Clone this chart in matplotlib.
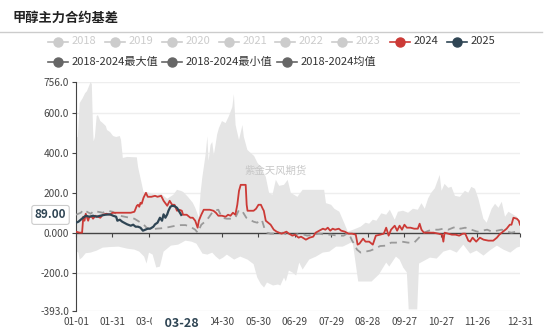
import matplotlib
matplotlib.use('Agg')
import matplotlib.pyplot as plt
import numpy as np
from matplotlib.lines import Line2D

plt.rcParams['font.family'] = ['Noto Sans CJK SC', 'DejaVu Sans']

W, H = 550, 331

title = '甲醇主力合约基差'
watermark = '紫金天风期货'
tick_days = [0, 30, 60, 120, 150, 180, 210, 240, 270, 300, 330, 365]
tick_labels = ['01-01', '01-31', '03-01', '04-30', '05-30', '06-29', '07-29',
               '08-28', '09-27', '10-27', '11-26', '12-31']
y_ticks = [-393, -200, 0, 200, 400, 600, 756]
y_tick_labels = ['-393.0', '-200.0', '0.000', '200.0', '400.0', '600.0', '756.0']
hl_day, hl_label = 86.5, '03-28'
hl_value, hl_value_label = 89, '89.00'

faded_years = ['2018', '2019', '2020', '2021', '2022', '2023']

max_days = [0, 1.5, 3, 5.5, 7.5, 9, 11, 12, 13, 14, 14.5, 15.5, 17, 18, 20, 22, 24.5, 25.5, 28,
            30.5, 33, 36, 37, 38.5, 42, 50, 51, 52.8, 55.5, 57, 58, 62, 66, 70, 75, 80, 83, 86,
            88, 92, 96, 98, 101, 102.4, 103.8, 106.5, 108, 109, 110.6, 112, 113.3, 114.7, 116,
            117.5, 120, 123, 125.7, 128.5, 129.8, 131.2, 134, 136.8, 138, 140.9, 143.6, 146.4,
            149.2, 152, 156, 158.7, 161.5, 164.3, 167, 171, 174, 176.6, 182, 186.3, 190, 204,
            205.5, 209.7, 212.4, 216.5, 220.6, 223.4, 228, 234, 238, 241, 244, 247, 251, 255,
            258, 262, 264.7, 268.8, 273, 277, 281, 284, 286.7, 289.5, 292, 295, 299, 300.5,
            303, 306, 308.7, 311.5, 315.6, 319.7, 322.5, 325, 328, 330.8, 334.9, 337.6, 341.7,
            344.5, 347.3, 350, 352.7, 355.5, 359.6, 362.4, 365]
max_vals = [475, 480, 650, 675, 700, 710, 740, 756, 745, 520, 458, 480, 585, 590, 560, 550, 535,
            515, 505, 485, 480, 485, 465, 375, 380, 378, 330, 280, 205, 200, 205, 195, 190, 195,
            170, 190, 215, 210, 205, 180, 150, 125, 75, 200, 275, 390, 483, 360, 440, 455, 390,
            440, 492, 525, 560, 550, 585, 630, 695, 540, 465, 540, 480, 415, 400, 385, 350, 330,
            280, 200, 190, 265, 235, 240, 265, 200, 180, 215, 215, 215, 148, 140, 120, 105, 47,
            5, 15, 30, 50, 45, 65, 60, 97, 90, 115, 65, 105, 110, 100, 120, 115, 148, 120, 172,
            200, 223, 290, 210, 245, 225, 230, 185, 180, 210, 200, 230, 220, 170, 70, 50, 120,
            145, 125, 155, 80, 105, 90, 80, 50]

min_days = [0, 2, 3, 5, 8, 12, 17, 22, 28, 35, 42, 48, 52, 56, 58, 60, 63, 66, 69, 72, 78, 84,
            90, 95, 99, 101, 104, 108, 112, 115, 118, 121, 124, 130, 135, 141, 146, 149, 152,
            154.6, 157, 162, 166, 168, 171, 172.5, 175, 178, 181, 183.5, 186.3, 191.7, 197.3,
            202.8, 208.3, 213.8, 219.3, 226, 227.5, 232, 243, 249, 255, 257.5, 263, 266, 269,
            272, 273.5, 280.5, 282, 285, 291, 296.5, 302, 307.5, 313, 318.4, 324, 329.3, 335,
            340, 346, 351.4, 357, 362.4, 365]
min_vals = [-93, -100, -135, -125, -103, -100, -90, -75, -72, -70, -80, -85, -95, -120, -155,
            -100, -110, -175, -170, -95, -65, -60, -40, -45, -55, -75, -105, -110, -100, -120,
            -135, -125, -110, -135, -120, -135, -158, -225, -258, -275, -250, -265, -260, -265,
            -225, -245, -190, -200, -215, -150, -185, -135, -120, -100, -95, -70, -70, -50, -50,
            -245, -245, -210, -150, -170, -120, -135, -175, -200, -385, -385, -155, -145, -125,
            -130, -95, -85, -100, -60, -105, -90, -115, -90, -65, -85, -100, -75, -70]

y2024_days = [0, 3, 5, 6, 7, 8, 10, 11, 13, 14, 16, 18, 20, 22, 25, 28, 30, 35, 40, 45, 48, 50,
              51, 52, 53, 54, 55.5, 57.5, 59, 62, 65, 67, 70, 72, 75, 77, 79, 81, 83, 85, 87, 88,
              91, 94, 96, 98, 100, 101, 103, 105, 110, 113, 115, 117, 120, 123, 125, 127, 129,
              131, 132.6, 134, 135.4, 137, 139.5, 140.3, 141, 143, 146, 148, 150, 152, 153.5,
              154.4, 156, 158, 160, 162.6, 165, 167, 169, 171, 173, 175, 178, 180, 183, 185, 189,
              192, 195, 197, 200, 203, 205, 207, 209, 211, 213, 216, 218, 221, 224, 227, 230,
              231.5, 233, 236, 238, 241, 244, 246.5, 250, 253, 255, 257, 259, 262, 264, 266,
              268, 270, 272, 275, 278, 281, 282.5, 284, 286, 290, 294, 298, 301, 302, 303, 306,
              309, 312, 315, 318, 320, 322.5, 324, 326, 329, 332, 335, 339, 343, 346, 348, 350,
              352, 354, 356.6, 358, 359.6, 362.4, 364, 365]
y2024_vals = [5, 0, 0, 80, 60, 95, 60, 80, 80, 70, 85, 80, 75, 90, 95, 90, 100, 100, 100, 100,
              105, 135, 140, 130, 150, 145, 175, 200, 180, 180, 185, 180, 185, 160, 135, 160,
              140, 140, 110, 115, 110, 90, 90, 75, 75, 60, 25, 60, 90, 115, 115, 110, 100, 85,
              85, 80, 90, 85, 100, 90, 140, 210, 240, 240, 240, 140, 110, 110, 110, 120, 140,
              140, 120, 110, 60, 50, 40, 15, 5, 0, -5, 0, 5, -5, -15, -10, -25, -20, -35, -25,
              -20, 0, 10, 20, 15, 25, 10, 20, 15, 20, 10, 5, -5, -5, -10, -60, -55, -30, -45,
              -45, -60, -15, -10, -5, 25, -15, 15, 35, 10, 35, 15, 40, 25, 25, 20, 20, 45, 15,
              0, 0, 0, -5, -10, -45, 0, -5, -10, -10, -15, -5, -5, -40, -45, -25, -45, -25, -35,
              -40, -40, -25, -10, 0, 10, 20, 40, 40, 75, 70, 60, 40]

y2025_days = [0, 2, 5.8, 8, 11, 14, 17, 20, 24, 28, 30.5, 33, 34, 36, 38, 42, 45, 47, 49, 51,
              53, 55, 57, 59, 61, 63.6, 65, 67, 69, 70.7, 72, 73.5, 75, 76, 77.6, 79, 81, 83, 84,
              86.5]
y2025_vals = [50, 55, 75, 85, 80, 85, 80, 85, 90, 92, 85, 80, 60, 65, 55, 42, 35, 40, 30, 30,
              25, 10, 15, 20, 20, 30, 42, 50, 75, 60, 92, 75, 92, 110, 130, 135, 133, 125, 115,
              89]

mean_days = [0, 4, 6, 9, 12, 15, 18, 22, 26, 30, 33, 36, 40, 44, 48, 52, 55, 58, 62, 66, 70,
             74, 78, 82, 86, 90, 94, 98, 100, 103, 106, 109, 113, 117, 120, 124, 128, 131, 134,
             137, 140, 143, 146, 149, 151, 153, 155, 157, 160, 165, 170, 175, 180, 185, 190,
             195, 200, 205, 210, 215, 220, 224, 227, 229, 231, 234, 238, 242, 246, 250, 255,
             259, 263, 268, 273, 278, 282, 286, 290, 294, 298, 302, 306, 310, 313, 316, 320,
             325, 330, 334, 338, 342, 346, 350, 354, 358, 362, 365]
mean_vals = [90, 100, 115, 105, 95, 110, 105, 100, 110, 105, 95, 85, 80, 75, 70, 55, 45, 25, 15,
             20, 22, 25, 30, 35, 38, 38, 30, 15, 0, 40, 55, 75, 110, 115, 75, 70, 70, 75, 115,
             105, 75, 65, 55, 50, 65, 60, 20, 0, -5, -5, 0, -15, -10, -5, -15, -10, -5, -10,
             -10, -15, -15, 0, -40, -60, -85, -100, -95, -90, -80, -67, -65, -50, -50, -45,
             -50, -50, -25, 0, 10, 15, 15, 20, 15, 25, 30, 20, 25, 15, 5, 10, 15, 5, 10, 15, 5,
             0, 5, 0]

RED = '#cc3a36'
NAVY = '#2f4554'
FILL = '#e5e5e5'
FADED = '#cccccc'
DARK = '#666666'
TXT = '#444444'

fig = plt.figure(figsize=(W / 100, H / 100), dpi=100)
ax = fig.add_axes([76 / W, 1 - 311 / H, 444 / W, 229 / H])

ax.fill(np.concatenate([max_days, min_days[::-1]]),
        np.concatenate([max_vals, min_vals[::-1]]),
        color=FILL, lw=0, zorder=1)
ax.axhline(0, color='#444444', lw=1, zorder=2)
ax.plot(mean_days, mean_vals, color='#9a9a9a', lw=1.3, ls=(0, (4, 3)), zorder=3)
ax.plot(y2024_days, y2024_vals, color=RED, lw=1.3, zorder=4)
ax.plot(y2025_days, y2025_vals, color=NAVY, lw=1.6, zorder=5)

ax.set_xlim(0, 365)
ax.set_ylim(-393, 756)
ax.set_yticks(y_ticks)
ax.set_yticklabels(y_tick_labels)
for v in y_ticks:
    if v != 0:
        ax.axhline(v, color='#eeeeee', lw=1, zorder=0)
for s in ['top', 'right']:
    ax.spines[s].set_visible(False)
ax.spines['left'].set_color('#444444')
ax.spines['bottom'].set_position(('data', 0))
ax.spines['bottom'].set_visible(False)
ax.set_xticks(tick_days)
ax.tick_params(axis='x', direction='out', length=3, color='#444444', labelbottom=False)
ax.tick_params(axis='y', direction='out', length=3, color='#444444', labelsize=7.3,
               labelcolor=TXT, pad=2)

sec = ax.secondary_xaxis('bottom')
sec.set_xticks(tick_days)
sec.set_xticklabels(tick_labels)
sec.tick_params(length=0, labelsize=7.3, labelcolor=TXT, pad=4)
sec.spines['bottom'].set_visible(False)

ax.annotate('   ' + hl_label + '   ', xy=(hl_day, -393), xytext=(0, -4), textcoords='offset points',
            ha='center', va='top', fontsize=9, fontweight='bold', color=NAVY,
            bbox=dict(boxstyle='square,pad=0.3', fc='white', ec='none'),
            annotation_clip=False, zorder=10)
ax.annotate(hl_value_label, xy=(0, hl_value), xytext=(-7, 0), textcoords='offset points',
            xycoords=('axes fraction', 'data'),
            ha='right', va='center', fontsize=8.5, fontweight='bold', color=NAVY,
            bbox=dict(boxstyle='round,pad=0.25,rounding_size=0.2', fc='white', ec='#cccccc', lw=0.8),
            annotation_clip=False, zorder=10)

ax.text(0.45, 0.615, watermark, transform=ax.transAxes, fontsize=7.5, color='#c8c8c8',
        ha='center', va='center', zorder=6)


def fx(x):
    return x / W


def fy(y):
    return 1 - y / H


fig.text(fx(12), fy(18), title, fontsize=9.5, fontweight='bold', color='#222222',
         ha='left', va='center')
fig.add_artist(Line2D([0, fx(542)], [fy(32), fy(32)], color='#cccccc', lw=1))

legend_row1 = [(58, faded_years[0], FADED, FADED), (115, faded_years[1], FADED, FADED),
               (172, faded_years[2], FADED, FADED), (229, faded_years[3], FADED, FADED),
               (285, faded_years[4], FADED, FADED), (342, faded_years[5], FADED, FADED),
               (400, '2024', RED, '#333333'), (457, '2025', NAVY, '#333333')]
legend_row2 = [(58, '2018-2024最大值', DARK, '#333333'), (172, '2018-2024最小值', DARK, '#333333'),
               (287, '2018-2024均值', DARK, '#333333')]
for row, ypx in [(legend_row1, 41.5), (legend_row2, 62)]:
    for cx, label, mc, tc in row:
        fig.add_artist(Line2D([fx(cx - 10), fx(cx + 10)], [fy(ypx), fy(ypx)], color=mc, lw=1.2))
        fig.add_artist(Line2D([fx(cx)], [fy(ypx)], marker='o', markersize=6.5, color=mc, lw=0))
        fig.text(fx(cx + 14), fy(ypx), label, fontsize=8, color=tc, ha='left', va='center')

fig.savefig('out.png', dpi=100, facecolor='white')
